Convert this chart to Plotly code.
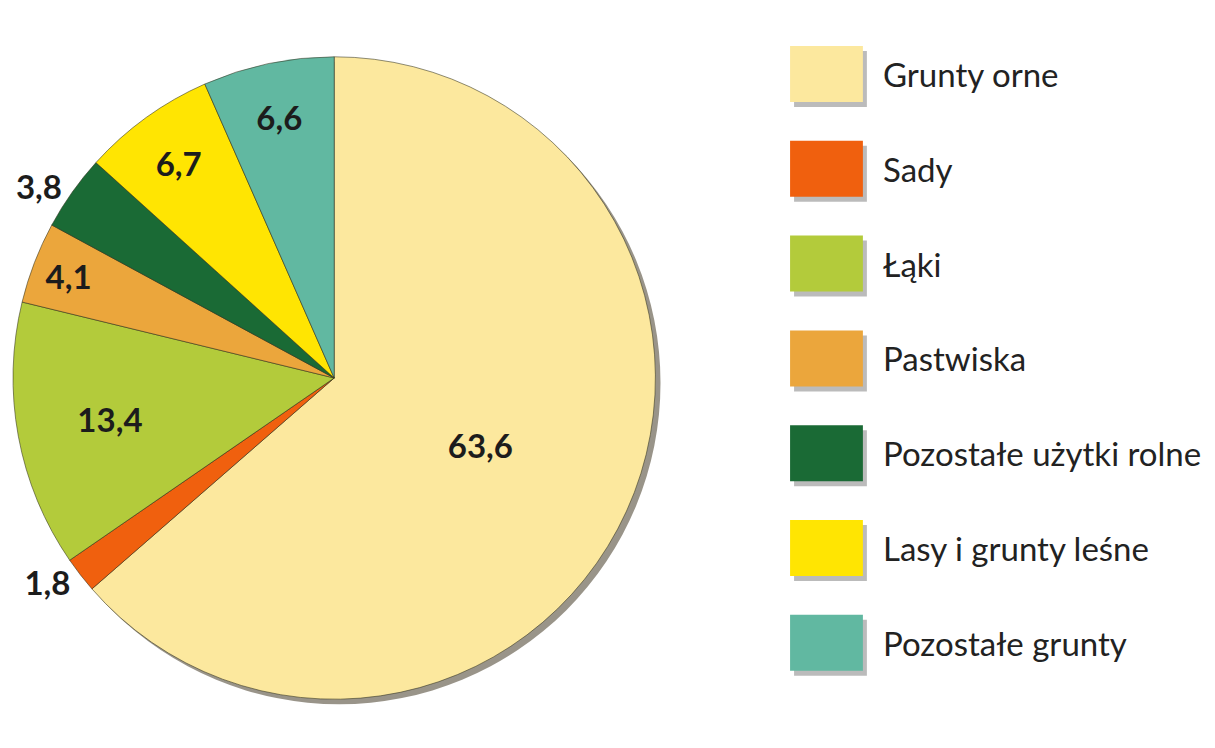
import plotly.graph_objects as go

categories = ["Grunty orne", "Sady", "Łąki", "Pastwiska",
              "Pozostałe użytki rolne", "Lasy i grunty leśne", "Pozostałe grunty"]
values = [63.6, 1.8, 13.4, 4.1, 3.8, 6.7, 6.6]
colors = ["#FCE89E", "#F0600E", "#B3CB3B", "#EBA63C", "#1A6A35", "#FFE502", "#61B8A1"]
text_positions = ["inside", "outside", "inside", "inside", "outside", "inside", "inside"]

W, H = 1215, 748
OFF = 8  # page body margin
cx, cy, r = 332 - OFF, 378 - OFF, 322  # pie centre / radius in px


def dom(cx_, cy_, r_):
    return dict(x=[(cx_ - r_) / W, (cx_ + r_) / W],
                y=[(H - cy_ - r_) / H, (H - cy_ + r_) / H])


fig = go.Figure()

# soft drop shadow behind the pie
fig.add_trace(go.Pie(values=[1], labels=["shadow"], marker=dict(colors=["rgba(70,60,40,0.55)"]),
                     textinfo="none", hoverinfo="skip", showlegend=False, sort=False,
                     domain=dom(cx + 5, cy + 5, r)))

fig.add_trace(go.Pie(
    labels=categories, values=values, sort=False, direction="clockwise", rotation=0,
    marker=dict(colors=colors, line=dict(color="rgba(50,50,30,0.55)", width=1)),
    texttemplate="%{value:.1f}", textposition=text_positions,
    insidetextorientation="horizontal",
    textfont=dict(family="Lato", size=33, color="#1c1c1c", weight="bold"),
    showlegend=False, domain=dom(cx, cy, r),
))

# custom legend with large colour boxes
shapes, annotations = [], []
bx0, bx1 = 789 - OFF, 862 - OFF
for i, (cat, col) in enumerate(zip(categories, colors)):
    top = 46 - OFF + 94.8 * i
    bot = top + 56
    shapes.append(dict(type="rect", xref="paper", yref="paper",
                       x0=(bx0 + 4) / W, x1=(bx1 + 4) / W,
                       y0=1 - (bot + 5) / H, y1=1 - (top + 5) / H,
                       fillcolor="rgba(60,60,60,0.35)", line=dict(width=0), layer="below"))
    shapes.append(dict(type="rect", xref="paper", yref="paper",
                       x0=bx0 / W, x1=bx1 / W, y0=1 - bot / H, y1=1 - top / H,
                       fillcolor=col, line=dict(width=0)))
    annotations.append(dict(text=cat, xref="paper", yref="paper",
                            x=(880 - OFF) / W, y=1 - (top + 28) / H, xanchor="left", yanchor="middle",
                            showarrow=False,
                            font=dict(family="Lato", size=33, color="#222222")))

fig.update_layout(
    width=W, height=H, margin=dict(l=0, r=0, t=0, b=0),
    paper_bgcolor="white", plot_bgcolor="white",
    separators=", ", shapes=shapes, annotations=annotations,
)

fig.write_html("out.html")
